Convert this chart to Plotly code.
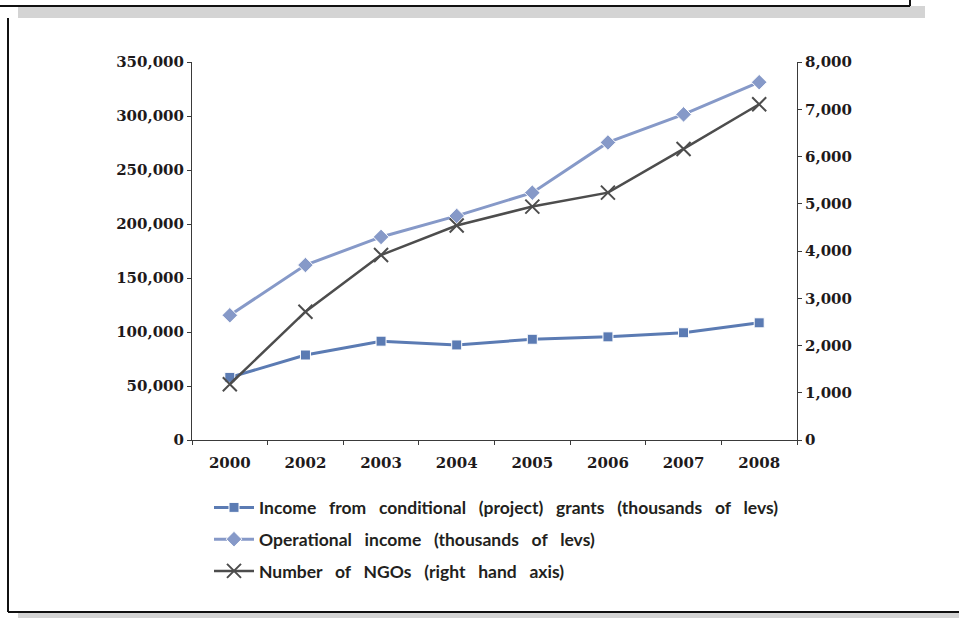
import plotly.graph_objects as go

years = ["2000", "2002", "2003", "2004", "2005", "2006", "2007", "2008"]
grants = [58000, 78700, 91500, 88000, 93300, 95500, 99300, 108500]
operational = [115500, 162000, 188000, 207500, 229000, 275500, 301500, 331300]
ngos = [1180, 2716, 3915, 4540, 4940, 5235, 6160, 7105]

series_names = [
    "Income from conditional (project) grants (thousands of levs)",
    "Operational income (thousands of levs)",
    "Number of NGOs (right hand axis)",
]

left_ticks = [0, 50000, 100000, 150000, 200000, 250000, 300000, 350000]
right_ticks = [0, 1000, 2000, 3000, 4000, 5000, 6000, 7000, 8000]

W, H = 959, 619
L, R, T, B = 192, 797, 62, 440


def px(x):
    return (x - L) / (R - L)


def py(y):
    return (B - y) / (B - T)


def wide(s):
    return "<b>" + s.replace(" ", "\u00a0\u00a0 ") + "</b>"


tick_font = dict(family="DejaVu Serif", size=15, color="#1e1a1b")
legend_font = dict(family="Lato", size=17.5, color="#231f20")

fig = go.Figure()
fig.add_trace(go.Scatter(
    x=years, y=grants, name=wide(series_names[0]),
    mode="lines+markers", legendgroup="a",
    line=dict(color="#5B7BB3", width=3),
    marker=dict(symbol="square", size=10, color="#5B7BB3", line=dict(color="white", width=1)),
))
fig.add_trace(go.Scatter(
    x=years, y=operational, name=wide(series_names[1]),
    mode="lines+markers", legendgroup="b",
    line=dict(color="#8699C8", width=3),
    marker=dict(symbol="diamond", size=12, color="#8699C8", line=dict(color="white", width=1)),
))
fig.add_trace(go.Scatter(
    x=years, y=ngos, name=wide(series_names[2]), yaxis="y2",
    mode="lines+markers", legendgroup="c",
    line=dict(color="#4D4D4D", width=2.5),
    marker=dict(symbol="x-thin", size=14, color="#4D4D4D", line=dict(color="#4D4D4D", width=2)),
))

axis_common = dict(showgrid=False, zeroline=False, showline=True, linecolor="#3a3a3a",
                   linewidth=1, ticks="outside", ticklen=4, tickcolor="#3a3a3a",
                   tickfont=tick_font)

fig.update_layout(
    width=W, height=H,
    margin=dict(l=L, r=W - R, t=T, b=H - B),
    paper_bgcolor="white", plot_bgcolor="white",
    showlegend=True,
    legend=dict(x=px(209), y=py(489.5), xanchor="left", yanchor="top",
                font=legend_font, tracegroupgap=6, traceorder="grouped",
                bgcolor="rgba(0,0,0,0)", itemwidth=40),
    xaxis=dict(type="category", categoryorder="array", categoryarray=years,
               range=[-0.5, 7.5], tickson="boundaries", ticklabelstandoff=9,
               tickprefix="<b>", ticksuffix="</b>", **axis_common),
    yaxis=dict(range=[0, 350000], tickvals=left_ticks,
               ticktext=[f"<b>{v:,}</b>" for v in left_ticks], **axis_common),
    yaxis2=dict(range=[0, 8000], tickvals=right_ticks, overlaying="y", side="right",
                ticktext=[f"<b>{v:,}</b>" for v in right_ticks], **axis_common),
)

shapes = []
# top band (bottom of a previous box with shadow)
shapes.append(dict(type="rect", xref="paper", yref="paper", x0=px(18), x1=px(925), y0=py(18), y1=py(6),
                   fillcolor="#d4d4d4", line=dict(width=0), layer="below"))
shapes.append(dict(type="line", xref="paper", yref="paper", x0=px(0), x1=px(910), y0=py(6), y1=py(6),
                   line=dict(color="#111", width=2)))
shapes.append(dict(type="line", xref="paper", yref="paper", x0=px(910), x1=px(910), y0=py(0), y1=py(6),
                   line=dict(color="#111", width=2)))
# box frame
shapes.append(dict(type="rect", xref="paper", yref="paper", x0=px(18), x1=px(959), y0=py(618), y1=py(612),
                   fillcolor="#d4d4d4", line=dict(width=0), layer="below"))
shapes.append(dict(type="line", xref="paper", yref="paper", x0=px(8), x1=px(8), y0=py(18), y1=py(612),
                   line=dict(color="#111", width=2)))
shapes.append(dict(type="line", xref="paper", yref="paper", x0=px(8), x1=px(959), y0=py(612), y1=py(612),
                   line=dict(color="#111", width=2)))
fig.update_layout(shapes=shapes)

fig.write_html("out.html", config={"displayModeBar": False})

with open("out.html", encoding="utf-8") as f:
    html = f.read()
html = html.replace("<head>", "<head><style>html,body{margin:0;padding:0;overflow:hidden;}</style>", 1)
with open("out.html", "w", encoding="utf-8") as f:
    f.write(html)
